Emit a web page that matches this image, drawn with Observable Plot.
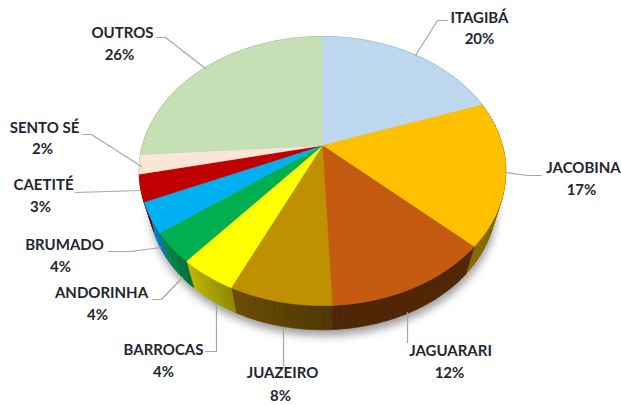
<!DOCTYPE html>
<html><head><meta charset="utf-8">
<script src="https://cdn.jsdelivr.net/npm/d3@7"></script>
<script src="https://cdn.jsdelivr.net/npm/@observablehq/plot@0.6"></script>
<style>
html,body{margin:0;padding:0;background:#fff}
svg{display:block}
</style></head><body><div id="chart"></div>
<script>
const names  = ["ITAGIBÁ","JACOBINA","JAGUARARI","JUAZEIRO","BARROCAS","ANDORINHA","BRUMADO","CAETITÉ","SENTO SÉ","OUTROS"];
// Shares; the labels show them rounded.
const shares = [19.6,17.3,12.4,7.6,4.3,3.6,3.6,3.2,2.3,26.1];
const topColors  = ["#bdd7ee","#ffc000","#c55a11","#bf9000","#ffff00","#00b050","#00b0f0","#c00000","#fbe5d6","#c5e0b4"];
const wallFrom   = ["#6f8ba3","#8a6a00","#4f2505","#6b4c06","#c4b800","#008a45","#0a86c0","#7a0000","#a89a8e","#7f9a70"];
const wallTo     = ["#6f8ba3","#6b5600","#4f2505","#4e3700","#8c8800","#00703a","#0a6ea6","#7a0000","#a89a8e","#7f9a70"];

// Where each label sits and how its leader runs, in chart space.
const labelAnchors = [[479,18],[583,168],[450,351],[282,373],[163,350],[101,293],[64,245],[43,185],[44,128],[122,33]];
const shareAnchors = [[479,39],[581,190],[449,373],[280,396],[163,372],[97,315],[60,267],[40,207],[42,149],[119,55]];
const leaders = [
  [[415,55],[437,20],[447,20]],
  [[505,172],[527,175],[541,175]],
  [[407,312],[407,342]],
  [[283,327],[283,365]],
  [[216,303],[216,351],[205,351]],
  [[182,277],[161,299],[152,299]],
  [[160,247],[130,251],[108,251]],
  [[140,190],[75,192]],
  [[141,166],[91,134],[82,134]],
  [[205,68],[165,37],[156,37]]
];

// Tilted-disc view of the pie: perspective about the apex.
const cx = 322, cy = 145, rx = 180, ry = 129.7, k = 0.19;
const wallScale = 0.945, wallDrop = 33;
function rim(turn, lower = false) {
  const a = turn * 2 * Math.PI, u = Math.sin(a), v = Math.cos(a), w = 1 + k * v;
  const X = rx * u / w, Y = ry * v / w;
  return lower ? [cx + X * wallScale, cy - Y * wallScale + wallDrop] : [cx + X, cy - Y];
}
const total = d3.sum(shares);
const starts = [0, ...d3.cumsum(shares)].map(s => s / total);

const tops = [], walls = [];
names.forEach((name, i) => {
  const t0 = starts[i], t1 = starts[i + 1], steps = Math.ceil((t1 - t0) * 240);
  const col = topColors[i];
  tops.push({id: name, color: col, p: [cx, cy]});
  d3.range(steps + 1).forEach(j => tops.push({id: name, color: col, p: rim(t0 + (t1 - t0) * j / steps)}));
  tops.push({id: name, color: col, p: [cx, cy]});
  const mix = d3.interpolateRgb(wallFrom[i], wallTo[i]);
  d3.range(steps).forEach(j => {
    const a = t0 + (t1 - t0) * j / steps, b = t0 + (t1 - t0) * (j + 1) / steps;
    // the wall shades from the left-hand end to the right-hand end of the slice
    const color = mix(1 - (j + 0.5) / steps);
    const id = name + j;
    [rim(a), rim(b), rim(b, true), rim(a, true), rim(a)].forEach(p => walls.push({id, color, p}));
  });
});
const shadow = d3.range(241).map(j => { const p = rim(j / 240, true); return {p: [p[0] + 1, p[1] + 6]}; });
const leaderRows = leaders.flatMap((pts, i) => pts.map(p => ({id: names[i], p})));

const font = "Lato, Carlito, 'Noto Sans', sans-serif";
const chart = Plot.plot({
  width: 621, height: 405, margin: 0,
  x: {domain: [0, 621], range: [0, 621], axis: null},
  y: {domain: [0, 405], range: [0, 405], axis: null},
  style: {background: "#fff"},
  marks: [
    Plot.line(shadow, {x: d => d.p[0], y: d => d.p[1], fill: "#000", fillOpacity: 0.38, stroke: "none"}),
    Plot.line(walls, {x: d => d.p[0], y: d => d.p[1], z: "id", fill: "color", stroke: "color", strokeWidth: 0.6}),
    Plot.line(tops, {x: d => d.p[0], y: d => d.p[1], z: "id", fill: "color", stroke: "color", strokeWidth: 0.4}),
    Plot.line(leaderRows, {x: d => d.p[0], y: d => d.p[1], z: "id", stroke: "#a6a6a6", strokeWidth: 1.2}),
    Plot.text(names, {x: (d, i) => labelAnchors[i][0], y: (d, i) => labelAnchors[i][1], text: d => d,
      fontFamily: font, fontWeight: 700, fontSize: 15, fill: "#1f2730"}),
    Plot.text(shares, {x: (d, i) => shareAnchors[i][0], y: (d, i) => shareAnchors[i][1], text: d => Math.round(d) + "%",
      fontFamily: font, fontWeight: 700, fontSize: 15, fill: "#1f2730"})
  ]
});
chart.querySelector('g[aria-label="line"]').style.filter = "blur(4px)";
document.getElementById("chart").append(chart);
</script></body></html>
